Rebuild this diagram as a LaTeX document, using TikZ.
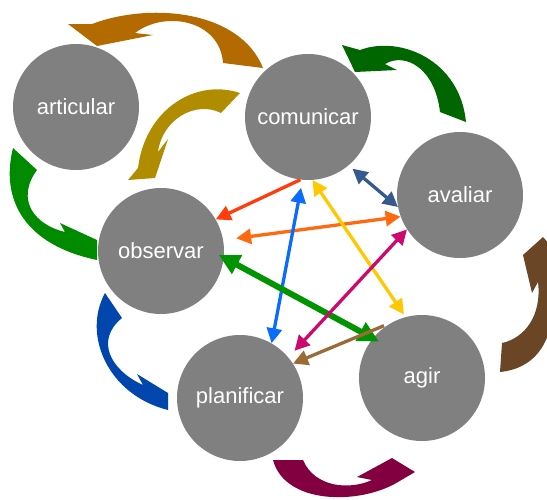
\documentclass[tikz,border=0pt]{standalone}
\usepackage{fontspec}
\setmainfont{Liberation Sans}
\usetikzlibrary{arrows.meta}
\definecolor{disc}{HTML}{808080}
\definecolor{ochre}{HTML}{B36B00}
\definecolor{mustard}{HTML}{B08C00}
\definecolor{leaf}{HTML}{008A00}
\definecolor{ocean}{HTML}{0046AD}
\definecolor{wine}{HTML}{82003F}
\definecolor{pine}{HTML}{006600}
\definecolor{bark}{HTML}{6B4626}
\definecolor{flame}{HTML}{FF3C0A}
\definecolor{tangerine}{HTML}{FF6A10}
\definecolor{sky}{HTML}{0A6CFF}
\definecolor{sun}{HTML}{FFC800}
\definecolor{steel}{HTML}{355A8C}
\definecolor{grass}{HTML}{009400}
\definecolor{berry}{HTML}{CC0A6E}
\definecolor{tan}{HTML}{9C6A36}
\tikzset{
  stage/.style={circle, fill=disc, draw=none, minimum size=126pt, inner sep=0pt,
                text=white, font=\fontsize{22}{26}\selectfont},
  ar/.style={-{Triangle[length=15pt,width=15pt]}, line width=3.3pt, draw=#1},
  arr/.style={{Triangle[length=15pt,width=15pt]}-{Triangle[length=15pt,width=15pt]},
              line width=3.3pt, draw=#1},
  arw/.style={{Triangle[length=21pt,width=20pt]}-{Triangle[length=21pt,width=20pt]},
              line width=6pt, draw=#1},
  band/.style={fill=#1},
}

\begin{document}
\begin{tikzpicture}[x=1pt, y=-1pt]
  \clip (0,0) rectangle (547,499);

  % curved arrows round the outside
  \fill[band=ochre] (68,24) -- (92,24) .. controls (150,2) and (240,10) .. (263,68)
    -- (223,63) .. controls (220,20) and (165,10) .. (135,33) -- (153,35) -- (97,46) -- cycle;
  \fill[band=mustard] (128,180) -- (138,168) .. controls (145,110) and (195,78) .. (240,93)
    -- (221,113) .. controls (195,100) and (162,120) .. (158,152) -- (168,139) -- (155,178) -- cycle;
  \fill[band=leaf] (13,148) .. controls (0,200) and (25,245) .. (97,260) -- (97,240)
    -- (60,223) -- (65,232) .. controls (35,225) and (15,200) .. (37,170) -- cycle;
  \fill[band=ocean] (105,293) .. controls (82,335) and (108,395) .. (168,410) -- (168,393)
    -- (137,374) -- (143,385) .. controls (110,370) and (95,340) .. (122,318) -- cycle;
  \fill[band=wine] (273,460) .. controls (285,505) and (360,505) .. (398,482) -- (415,472)
    -- (392,458) -- (357,477) -- (372,480) .. controls (350,490) and (315,488) .. (303,460) -- cycle;
  \fill[band=pine] (342,45) -- (360,50) .. controls (400,35) and (460,60) .. (466,122)
    -- (440,112) .. controls (435,68) and (405,52) .. (385,64) -- (397,70) -- (355,72) -- cycle;
  \fill[band=bark] (543,237) -- (523,255) -- (532,293) -- (538,282)
    .. controls (542,315) and (525,338) .. (502,343) -- (500,372)
    .. controls (540,368) and (556,335) .. (553,290) -- (562,258) -- cycle;

  % stages
  \node[stage] (art) at (76,107) {articular};
  \node[stage] (com) at (308,117) {comunicar};
  \node[stage] (ava) at (460,195) {avaliar};
  \node[stage] (obs) at (161,251) {observar};
  \node[stage] (pla) at (240,398) {planificar};
  \node[stage] (agi) at (422,378) {agir};

  % links between stages
  \draw[ar=flame] (com.263) -- (obs.30);
  \draw[arr=tangerine, shorten >=13pt] (ava.200) -- (obs.10);
  \draw[arr=sky, shorten <=8pt] (com.265) -- (pla.60);
  \draw[arr=sun, shorten >=3pt] (com.274) -- (agi.105);
  \draw[arr=steel, shorten <=5pt] (com.310) -- (ava.191);
  \draw[arw=grass, shorten <=-6pt, shorten >=-7pt] (obs.354) -- (agi.141);
  \draw[arr=berry, shorten >=9pt] (ava.213) -- (pla.40);
  \draw[ar=tan, shorten <=9pt] (agi.118) -- (pla.33);
\end{tikzpicture}
\end{document}
